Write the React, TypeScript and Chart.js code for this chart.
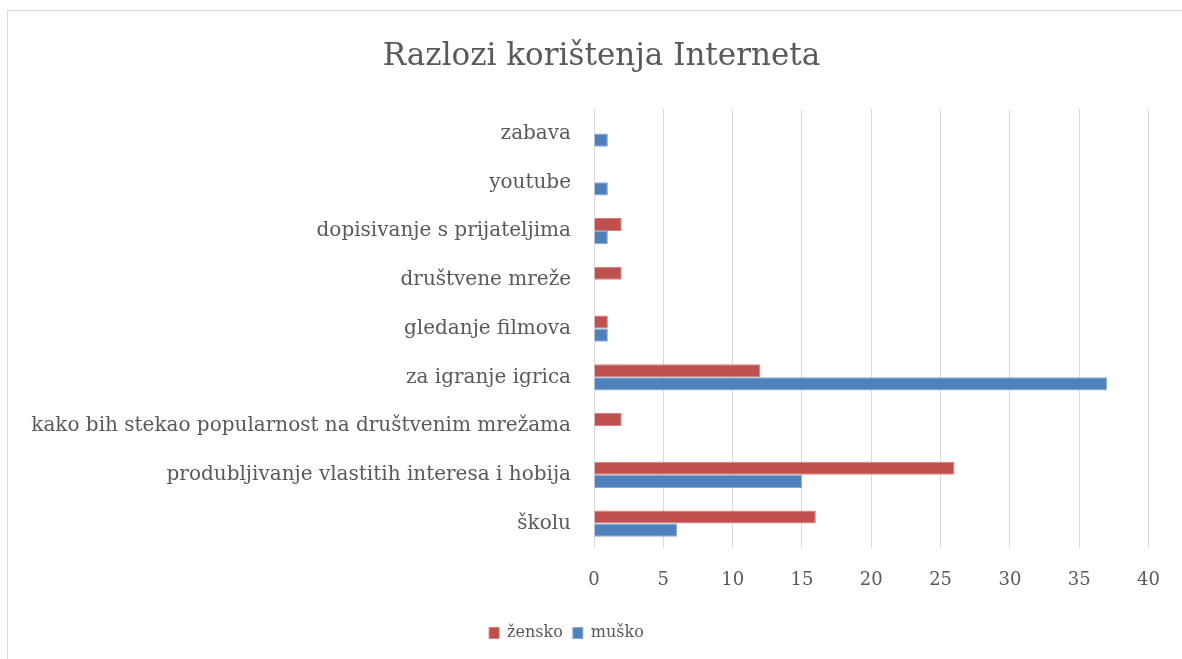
import React, { useEffect, useRef } from "react";
import { Chart, registerables } from "chart.js";

Chart.register(...registerables);

const categories = [
  "zabava",
  "youtube",
  "dopisivanje s prijateljima",
  "društvene mreže",
  "gledanje filmova",
  "za igranje igrica",
  "kako bih stekao popularnost na društvenim mrežama",
  "produbljivanje vlastitih interesa i hobija",
  "školu",
];
const zenskoValues = [0, 0, 2, 2, 1, 12, 2, 26, 16];
const muskoValues = [1, 1, 1, 0, 1, 37, 0, 15, 6];
const seriesNames = ["žensko", "muško"];
const xMin = 0;
const xMax = 40;
const xStep = 5;
const titleText = "Razlozi korištenja Interneta";

const FONT = "'DejaVu Serif', serif";
const TEXT = "#595959";

const shiftBlocks = {
  id: "shiftBlocks",
  afterLayout(chart: any) {
    if (chart.titleBlock) {
      chart.titleBlock.left += 21;
      chart.titleBlock.right += 21;
    }
    if (chart.legend) {
      chart.legend.left -= 14;
      chart.legend.right -= 14;
    }
  },
};

export default function App() {
  const ref = useRef<HTMLCanvasElement | null>(null);
  useEffect(() => {
    if (!ref.current) return;
    const chart = new Chart(ref.current, {
      type: "bar",
      data: {
        labels: categories,
        datasets: [
          {
            label: seriesNames[0],
            data: zenskoValues,
            backgroundColor: "#c0504d",
            borderColor: "#d47f7c",
            borderWidth: 1,
            categoryPercentage: 0.54,
            barPercentage: 1,
          },
          {
            label: seriesNames[1],
            data: muskoValues,
            backgroundColor: "#4f81bd",
            borderColor: "#86a9d4",
            borderWidth: 1,
            categoryPercentage: 0.54,
            barPercentage: 1,
          },
        ],
      },
      options: {
        indexAxis: "y",
        animation: false,
        responsive: true,
        maintainAspectRatio: false,
        layout: { padding: { left: 0, right: 29, top: 0, bottom: 8 } },
        plugins: {
          title: {
            display: true,
            text: titleText,
            color: TEXT,
            font: { family: FONT, size: 31, weight: "normal" },
            padding: { top: 27, bottom: 34 },
          },
          legend: {
            position: "bottom",
            labels: {
              color: TEXT,
              font: { family: FONT, size: 16 },
              boxWidth: 10,
              boxHeight: 11,
              padding: 10,
            },
          },
          tooltip: { enabled: false },
        },
        scales: {
          x: {
            min: xMin,
            max: xMax,
            ticks: {
              stepSize: xStep,
              color: TEXT,
              font: { family: FONT, size: 18 },
              padding: 22,
            },
            grid: { color: "#d9d9d9", lineWidth: 1, drawTicks: false },
            border: { display: false },
            afterFit: (s: any) => {
              s.height = 67;
            },
          },
          y: {
            ticks: {
              color: TEXT,
              font: { family: FONT, size: 20 },
              padding: 23,
              autoSkip: false,
            },
            grid: { display: false, drawTicks: false },
            border: { display: false },
            afterFit: (s: any) => {
              s.width = 586;
            },
          },
        },
      },
      plugins: [shiftBlocks],
    });
    return () => chart.destroy();
  }, []);
  return (
    <div
      style={{
        position: "absolute",
        left: 7,
        top: 10,
        width: 1175,
        height: 649,
        borderLeft: "1px solid #d9d9d9",
        borderTop: "1px solid #d9d9d9",
        boxSizing: "border-box",
        background: "#fff",
      }}
    >
      <div style={{ position: "relative", width: "100%", height: "100%" }}>
        <canvas ref={ref} />
      </div>
    </div>
  );
}
